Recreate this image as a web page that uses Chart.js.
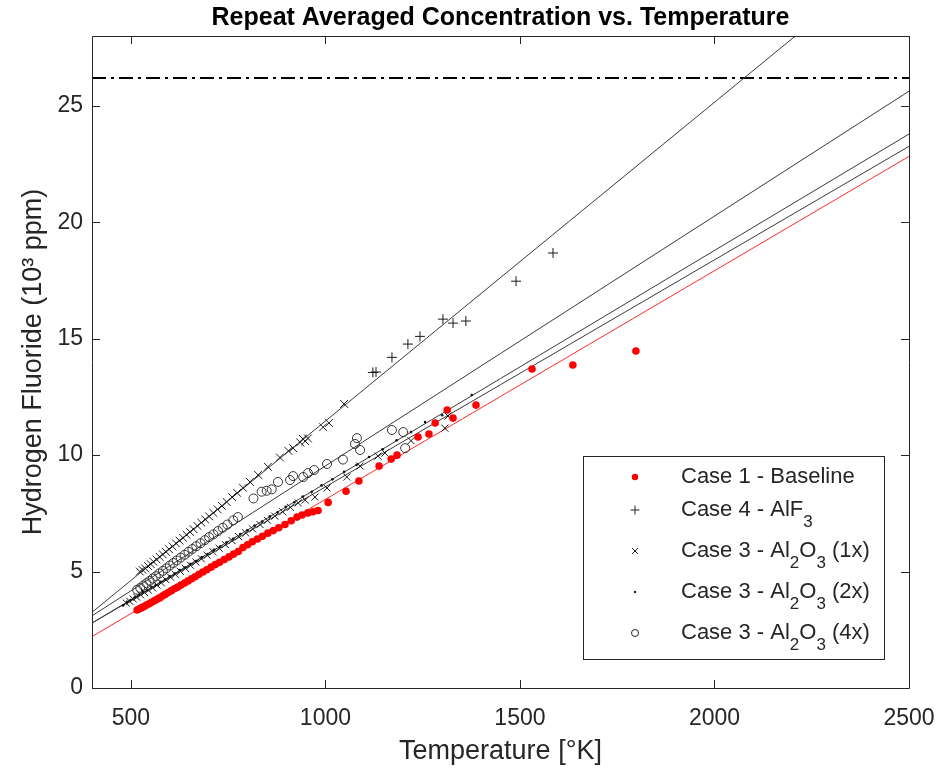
<!DOCTYPE html>
<html>
<head>
<meta charset="utf-8">
<title>Repeat Averaged Concentration vs. Temperature</title>
<script src="https://cdn.jsdelivr.net/npm/chart.js@4.4.1/dist/chart.umd.min.js"></script>
<style>
  body { margin: 0; background: #fff; }
  #wrap { width: 940px; height: 775px; }
</style>
</head>
<body>
<div id="wrap"><canvas id="hfChart" width="940" height="775"></canvas></div>
<script>
var xTicks = [500, 1000, 1500, 2000, 2500];
var yTicks = [0, 5, 10, 15, 20, 25];
var chartTitle = 'Repeat Averaged Concentration vs. Temperature';
var xTitle = 'Temperature [\u00b0K]';
var yTitle = 'Hydrogen Fluoride (10\u00b3 ppm)';
var seriesLabels = ['Case 1 - Baseline', 'Case 4 - AlF_3', 'Case 3 - Al_2O_3 (1x)', 'Case 3 - Al_2O_3 (2x)', 'Case 3 - Al_2O_3 (4x)'];

// Case 1 - baseline (red dots)
var baseT = [516, 522, 528, 534, 540, 547, 553, 560, 567, 574, 581, 588, 596, 604, 612, 620, 629, 638, 647, 656, 665, 675, 685, 695, 706, 717, 728, 740, 752, 764, 776, 788, 800, 812, 825, 838, 852, 866, 880, 896, 912, 927, 940, 955, 968, 981, 1007, 1053, 1086, 1138, 1169, 1184, 1238, 1266, 1282, 1313, 1328, 1387, 1531, 1636, 1798];
var baseC = [3.35, 3.40, 3.45, 3.50, 3.56, 3.62, 3.68, 3.74, 3.81, 3.87, 3.95, 4.02, 4.10, 4.18, 4.26, 4.33, 4.42, 4.51, 4.60, 4.69, 4.78, 4.88, 4.98, 5.08, 5.19, 5.30, 5.40, 5.52, 5.63, 5.75, 5.86, 6.03, 6.15, 6.28, 6.40, 6.52, 6.65, 6.76, 6.88, 7.02, 7.18, 7.34, 7.43, 7.52, 7.57, 7.62, 7.97, 8.45, 8.89, 9.53, 9.83, 10.0, 10.78, 10.91, 11.38, 11.94, 11.59, 12.15, 13.70, 13.87, 14.47];

// Case 4 - AlF3
var alfT = [523, 530, 537, 544, 551, 558, 566, 574, 582, 590, 598, 607, 616, 625, 634, 643, 652, 661, 671, 681, 691, 701, 712, 723, 734, 746, 760, 773, 788, 806, 827, 852, 883, 905, 917, 935, 942, 948, 955, 994, 1009, 1048, 1122, 1130, 1171, 1212, 1243, 1302, 1328, 1361, 1490, 1585];
var alfC = [5.00, 5.07, 5.13, 5.24, 5.32, 5.42, 5.52, 5.63, 5.74, 5.85, 5.96, 6.08, 6.21, 6.33, 6.45, 6.58, 6.70, 6.82, 6.96, 7.10, 7.24, 7.37, 7.52, 7.67, 7.82, 7.99, 8.20, 8.38, 8.60, 8.85, 9.15, 9.50, 9.90, 10.18, 10.30, 10.55, 10.70, 10.60, 10.72, 11.20, 11.38, 12.20, 13.55, 13.57, 14.20, 14.77, 15.10, 15.84, 15.67, 15.76, 17.47, 18.68];

// Case 3 - Al2O3 (1x)
var al1T = [488, 497, 506, 515, 525, 535, 545, 556, 567, 578, 590, 602, 614, 627, 640, 653, 667, 681, 696, 711, 727, 743, 760, 777, 795, 813, 832, 851, 870, 890, 910, 930, 948, 973, 1004, 1055, 1089, 1135, 1153, 1220, 1307, 1315];
var al1C = [3.65, 3.72, 3.82, 3.90, 4.00, 4.10, 4.20, 4.30, 4.42, 4.52, 4.65, 4.76, 4.88, 5.01, 5.14, 5.27, 5.41, 5.55, 5.70, 5.85, 6.00, 6.16, 6.33, 6.50, 6.66, 6.83, 7.02, 7.20, 7.38, 7.57, 7.76, 7.95, 8.07, 8.20, 8.59, 9.06, 9.53, 9.96, 10.09, 10.62, 11.16, 11.68];

// Case 3 - Al2O3 (2x)
var al2T = [480, 490, 500, 510, 520, 531, 542, 553, 564, 576, 588, 600, 613, 626, 639, 653, 667, 682, 697, 713, 729, 746, 763, 781, 799, 818, 837, 857, 877, 898, 920, 942, 965, 990, 1018, 1048, 1080, 1112, 1147, 1183, 1220, 1256, 1300, 1376];
var al2C = [3.55, 3.70, 3.78, 3.90, 3.98, 4.12, 4.20, 4.33, 4.42, 4.56, 4.66, 4.80, 4.92, 5.06, 5.17, 5.33, 5.45, 5.62, 5.75, 5.93, 6.07, 6.26, 6.41, 6.61, 6.77, 6.98, 7.15, 7.37, 7.55, 7.78, 7.98, 8.22, 8.43, 8.70, 8.96, 9.28, 9.58, 9.92, 10.25, 10.64, 10.99, 11.42, 11.71, 12.58];

// Case 3 - Al2O3 (4x)
var al4T = [516, 524, 532, 540, 548, 556, 564, 573, 582, 591, 600, 609, 618, 628, 638, 648, 658, 668, 679, 690, 701, 712, 724, 736, 748, 763, 775, 815, 836, 849, 862, 878, 909, 917, 943, 955, 971, 1004, 1045, 1076, 1081, 1089, 1171, 1200, 1205];
var al4C = [4.22, 4.30, 4.40, 4.50, 4.60, 4.70, 4.80, 4.92, 5.03, 5.14, 5.26, 5.37, 5.48, 5.60, 5.72, 5.85, 5.97, 6.09, 6.22, 6.35, 6.48, 6.60, 6.74, 6.88, 7.02, 7.20, 7.34, 8.14, 8.43, 8.47, 8.53, 8.85, 8.93, 9.10, 9.06, 9.23, 9.36, 9.62, 9.81, 10.48, 10.73, 10.22, 11.08, 10.99, 10.30];

// linear fits, ends at T = 400 and 2500
var fitT = [400, 2500];
var baseFit = [2.21, 22.83];
var alfFit = [3.25, 32.0];
var al1Fit = [2.79, 23.26];
var al2Fit = [2.79, 23.79];
var al4Fit = [3.10, 25.63];
var limitC = [26.2, 26.2];

var fontFamily = "'Liberation Sans', Arial, Helvetica, sans-serif";
var axisColor = '#262626';

function pts(xs, ys) {
    return xs.map(function (x, i) { return { x: x, y: ys[i] }; });
}

function fitLine(ys, color, dash, width) {
    return {
        data: pts(fitT, ys),
        showLine: true,
        pointRadius: 0,
        borderColor: color,
        borderWidth: width || 1,
        borderDash: dash || [],
        order: 2
    };
}

function drawMarker(ctx, style, x, y) {
    ctx.save();
    ctx.lineWidth = 1;
    ctx.strokeStyle = '#222';
    ctx.fillStyle = '#222';
    ctx.beginPath();
    if (style === 'red') {
        ctx.fillStyle = '#ff0000';
        ctx.arc(x, y, 3.2, 0, Math.PI * 2);
        ctx.fill();
    } else if (style === 'plus') {
        ctx.moveTo(x - 4.5, y); ctx.lineTo(x + 4.5, y);
        ctx.moveTo(x, y - 4.5); ctx.lineTo(x, y + 4.5);
        ctx.stroke();
    } else if (style === 'cross') {
        ctx.moveTo(x - 3, y - 3); ctx.lineTo(x + 3, y + 3);
        ctx.moveTo(x - 3, y + 3); ctx.lineTo(x + 3, y - 3);
        ctx.stroke();
    } else if (style === 'dot') {
        ctx.arc(x, y, 1.2, 0, Math.PI * 2);
        ctx.fill();
    } else {
        ctx.arc(x, y, 3.5, 0, Math.PI * 2);
        ctx.stroke();
    }
    ctx.restore();
}

// text with "_d" subscripts
function drawRich(ctx, text, x, y, size) {
    var parts = text.split(/_(\d)/);
    var cx = x;
    for (var i = 0; i < parts.length; i++) {
        if (parts[i] === '') continue;
        if (i % 2 === 0) {
            ctx.font = size + 'px ' + fontFamily;
            ctx.fillText(parts[i], cx, y);
        } else {
            ctx.font = Math.round(size * 0.75) + 'px ' + fontFamily;
            ctx.fillText(parts[i], cx, y + 12);
        }
        cx += ctx.measureText(parts[i]).width;
    }
}

var framePlugin = {
    id: 'frame',
    afterDatasetsDraw: function (chart) {
        var ctx = chart.ctx;
        var a = chart.chartArea;
        var xs = chart.scales.x;
        var ys = chart.scales.y;
        var len = 8;
        ctx.save();
        ctx.strokeStyle = axisColor;
        ctx.lineWidth = 1;
        ctx.beginPath();
        ctx.rect(Math.round(a.left) + 0.5, Math.round(a.top) + 0.5, Math.round(a.right - a.left), Math.round(a.bottom - a.top));
        xTicks.forEach(function (t) {
            var px = Math.round(xs.getPixelForValue(t)) + 0.5;
            ctx.moveTo(px, a.bottom); ctx.lineTo(px, a.bottom - len);
            ctx.moveTo(px, a.top); ctx.lineTo(px, a.top + len);
        });
        yTicks.forEach(function (t) {
            var py = Math.round(ys.getPixelForValue(t)) + 0.5;
            ctx.moveTo(a.left, py); ctx.lineTo(a.left + len, py);
            ctx.moveTo(a.right, py); ctx.lineTo(a.right - len, py);
        });
        ctx.stroke();
        ctx.restore();
    },
    afterDraw: function (chart) {
        var ctx = chart.ctx;
        var a = chart.chartArea;
        var bx = Math.round(a.right) - 326;
        var by = Math.round(a.bottom) - 232;
        var bw = 301;
        var bh = 203;
        var rowY = [21, 54, 95, 136, 177];
        var markers = ['red', 'plus', 'cross', 'dot', 'circle'];
        ctx.save();
        ctx.fillStyle = '#fff';
        ctx.fillRect(bx, by, bw, bh);
        ctx.strokeStyle = axisColor;
        ctx.lineWidth = 1;
        ctx.strokeRect(bx + 0.5, by + 0.5, bw, bh);
        ctx.textBaseline = 'middle';
        ctx.textAlign = 'left';
        for (var i = 0; i < seriesLabels.length; i++) {
            drawMarker(ctx, markers[i], bx + 52, by + rowY[i]);
            ctx.fillStyle = axisColor;
            drawRich(ctx, seriesLabels[i], bx + 98, by + rowY[i], 22);
        }
        ctx.restore();
    }
};

var datasets = [
    {
        data: pts(baseT, baseC),
        pointStyle: 'circle',
        pointRadius: 3.8,
        backgroundColor: '#ff0000',
        borderColor: '#ff0000',
        borderWidth: 0,
        order: 0
    },
    {
        data: pts(alfT, alfC),
        pointStyle: function (c) { return c.raw && c.raw.x > 1100 ? 'cross' : 'crossRot'; },
        pointRadius: function (c) { return c.raw && c.raw.x > 1100 ? 5 : 5.5; },
        borderColor: '#1a1a1a',
        backgroundColor: '#1a1a1a',
        borderWidth: 1,
        order: 0
    },
    {
        data: pts(al1T, al1C),
        pointStyle: 'crossRot',
        pointRadius: 5,
        borderColor: '#1a1a1a',
        borderWidth: 1,
        order: 0
    },
    {
        data: pts(al2T, al2C),
        pointStyle: 'circle',
        pointRadius: 1.3,
        backgroundColor: '#111',
        borderColor: '#111',
        borderWidth: 0,
        order: 0
    },
    {
        data: pts(al4T, al4C),
        pointStyle: 'circle',
        pointRadius: 4.5,
        backgroundColor: 'rgba(0,0,0,0)',
        borderColor: '#333',
        borderWidth: 1,
        order: 0
    },
    fitLine(baseFit, '#ff2a2a'),
    fitLine(alfFit, '#3a3a3a'),
    fitLine(al1Fit, '#3a3a3a'),
    fitLine(al2Fit, '#3a3a3a'),
    fitLine(al4Fit, '#3a3a3a'),
    {
        data: pts(fitT, limitC),
        showLine: true,
        pointRadius: 0,
        borderColor: '#000',
        borderWidth: 2,
        borderDash: [14, 5, 3, 5],
        order: 2
    }
];

function plainTick(v) {
    return String(v);
}

var ctx = document.getElementById('hfChart').getContext('2d');
var chart = new Chart(ctx, {
    type: 'scatter',
    data: { datasets: datasets },
    options: {
        responsive: false,
        animation: false,
        events: [],
        layout: { padding: { left: 0, right: 31, top: 0, bottom: 0 } },
        plugins: {
            legend: { display: false },
            tooltip: { enabled: false },
            title: {
                display: true,
                fullSize: false,
                text: chartTitle,
                color: '#000',
                font: { family: fontFamily, size: 25, weight: 'bold' },
                padding: { top: 3, bottom: 3 }
            }
        },
        scales: {
            x: {
                type: 'linear',
                min: 400,
                max: 2500,
                grid: { display: false, drawTicks: false },
                border: { display: false },
                afterBuildTicks: function (s) { s.ticks = xTicks.map(function (v) { return { value: v }; }); },
                afterFit: function (s) { s.height = 87; s.paddingLeft = 0; s.paddingRight = 0; },
                ticks: { color: axisColor, padding: 17, callback: plainTick, font: { family: fontFamily, size: 23 } },
                title: { display: true, text: xTitle, color: axisColor, padding: { top: 0, bottom: 7 }, font: { family: fontFamily, size: 27 } }
            },
            y: {
                type: 'linear',
                min: 0,
                max: 28,
                grid: { display: false, drawTicks: false },
                border: { display: false },
                afterBuildTicks: function (s) { s.ticks = yTicks.map(function (v) { return { value: v }; }); },
                afterFit: function (s) { s.width = 92; s.paddingTop = 0; s.paddingBottom = 0; },
                ticks: { color: axisColor, padding: 9, callback: plainTick, font: { family: fontFamily, size: 23 } },
                title: { display: true, text: yTitle, color: axisColor, padding: { top: 17, bottom: 0 }, font: { family: fontFamily, size: 27 } }
            }
        }
    },
    plugins: [framePlugin]
});
</script>
</body>
</html>
